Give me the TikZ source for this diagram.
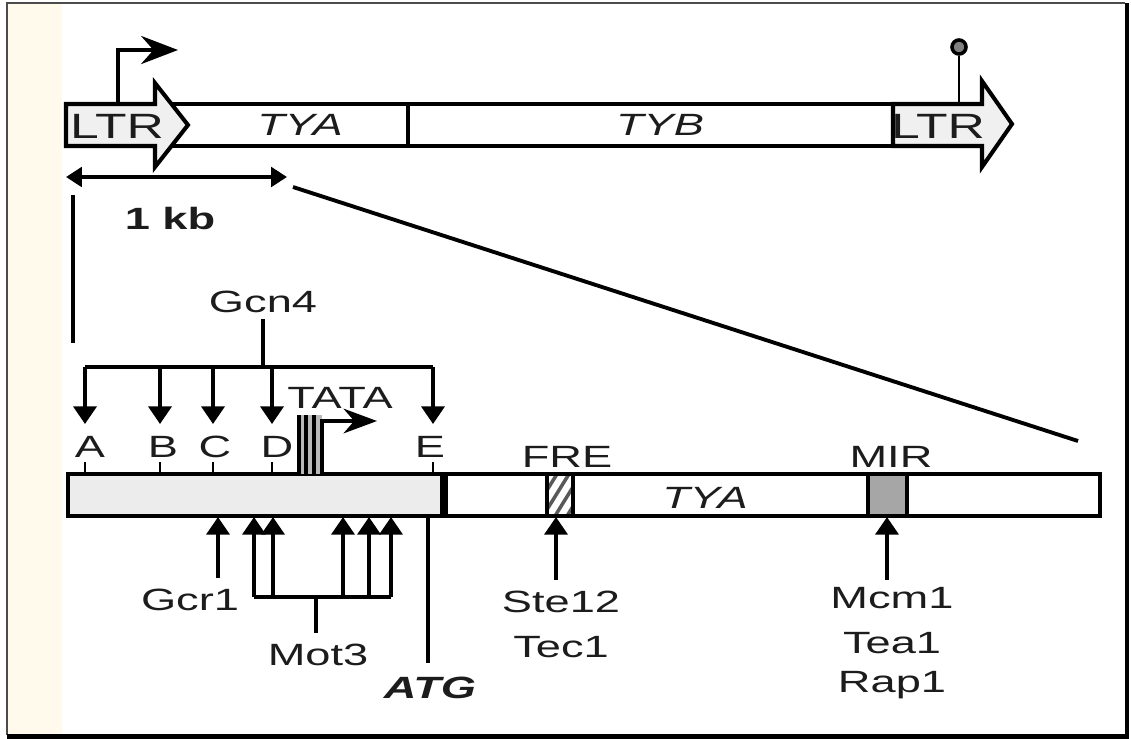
\documentclass[tikz,border=0pt]{standalone}
\usepackage{fontspec}
\setmainfont{Liberation Sans}[FakeStretch=1.47]
\usetikzlibrary{arrows.meta,positioning}
\definecolor{cream}{HTML}{FFFAEB}
\definecolor{ink}{HTML}{1C1C1C}
\begin{document}
\begin{tikzpicture}[
  x=0.02cm, y=-0.02cm,
  every node/.style={font=\fontsize{17.5}{21}\selectfont, text=ink, inner sep=0pt},
  bar/.style={draw, line width=2.3pt},
  wire/.style={line width=2.2pt},
  site/.style={line width=2.2pt, -{Triangle[length=10pt,width=13pt]}},
  tss/.style={line width=2.2pt, -{Stealth[length=21pt,width=16pt,inset=7pt]}},
]
\useasboundingbox (0,0) rectangle (1131,738);

%% frame with shadow edge
\fill[cream] (8,4) rectangle (62,734);
\draw[gray!60!black, line width=1pt] (1125,3) -- (7,3) -- (7,735);
\draw[line width=2.8pt] (7,736.5) -- (1127,736.5) -- (1127,3);

\def\ut{104}   % upper bar top
\def\ub{146}   % upper bar bottom

%% Ty1 element
\draw[bar, fill=white] (160,\ut) rectangle (900,\ub);
\draw[wire] (408,\ut) -- (408,\ub);
\draw[bar, fill=gray!12] (66,\ut) -- (155,\ut) -- (155,83) -- (188,125)
  -- (155,167) -- (155,\ub) -- (66,\ub) -- cycle;
\draw[bar, fill=gray!12] (893,\ut) -- (982,\ut) -- (982,81) -- (1012,124)
  -- (982,167) -- (982,\ub) -- (893,\ub) -- cycle;
\node[font=\fontsize{20}{24}\selectfont] (ltrL) at (117,126) {LTR};
\node[font=\fontsize{20}{24}\selectfont] (ltrR) at (938,126) {LTR};
\node[font=\fontsize{17.5}{21}\selectfont\itshape] (tyaU) at (300,125) {TYA};
\node[font=\fontsize{17.5}{21}\selectfont\itshape] (tyb) at (660,125) {TYB};

%% transcription start and terminator
\coordinate (tssU) at (118,\ut);
\coordinate (tssUe) at (178,50);
\draw[tss] (tssU) |- (tssUe);
\coordinate (term) at (959,\ut);
\node[draw, circle, line width=2pt, fill=gray, minimum size=8pt] (termH) at (959,47) {};
\draw[line width=1.6pt] (term) -- (termH.south);

%% scale
\coordinate (sbL) at (66,177);
\coordinate (sbR) at (287,177);
\draw[wire, {Triangle[length=9pt,width=11pt]}-{Triangle[length=9pt,width=11pt]}] (sbL) -- (sbR);
\node[font=\fontsize{17.5}{21}\selectfont\bfseries] (kb) at (170,219) {1 kb};

%% zoom lines
\coordinate (zA) at (73,195);
\coordinate (zB) at (73,343);
\coordinate (zC) at (293,187);
\coordinate (zD) at (1078,441);
\draw[wire] (zA) -- (zB);
\draw[wire] (zC) -- (zD);

\def\bt{474}   % lower bar top
\def\bb{516}   % lower bar bottom

%% promoter + TYA
\fill[gray!15] (68,\bt) rectangle (444,\bb);
\draw[bar] (68,\bt) rectangle (1100,\bb);
\draw[line width=4.5pt] (444,\bt) -- (444,\bb);

%% FRE (hatched)
\begin{scope}
  \clip (547,\bt) rectangle (573,\bb);
  \foreach \k in {-40,-28,...,40}
    \draw[gray!70!black, line width=2pt] (547+\k,\bb) -- (573+\k,\bt);
\end{scope}
\draw[bar] (547,\bt) rectangle (573,\bb);

%% MIR
\draw[bar, fill=gray!70] (868,\bt) rectangle (907,\bb);

%% TATA box
\fill[gray!55] (297,415) rectangle (322,\bt);
\foreach \x in {299,306,314}
  \draw[line width=2.6pt] (\x,415) -- (\x,\bt);
\coordinate (tssL) at (322,\bt);
\coordinate (tssLe) at (377,421);
\draw[wire, -{Stealth[length=19pt,width=14pt,inset=6pt]}] (tssL) |- (tssLe);
\node (tata) at (340,398) {TATA};

%% labels on the bar
\node (fre) at (567,457) {FRE};
\node (mir) at (891,457) {MIR};
\node[font=\fontsize{17.5}{21}\selectfont\itshape] (tyaL) at (705,498) {TYA};

%% Gcn4 sites A-E
\node (gcn4) at (263,302) {Gcn4};
\coordinate (gj) at (263,367);
\draw[wire] (gcn4.south) ++(0,6) -- (gj);
\draw[wire] (85,367) -- (433,367);
\foreach \x/\lx/\l in {85/90/A, 160/163/B, 213/215/C, 272/277/D, 433/430/E}{
  \coordinate (g\l) at (\x,367);
  \coordinate (g\l t) at (\x,424);
  \draw[site] (g\l) -- (g\l t);
  \node (s\l) at (\lx,447) {\l};
  \draw[line width=1.4pt] (\x,462) -- (\x,\bt);
}

%% Gcr1
\coordinate (gcr) at (218,578);
\coordinate (gcrT) at (218,517);
\draw[site] (gcr) -- (gcrT);
\node (gcr1) at (190,600) {Gcr1};

%% Mot3 sites
\draw[wire] (254,597) -- (391,597);
\foreach \x in {254,273,343,369,391}{
  \coordinate (m\x) at (\x,597);
  \coordinate (m\x t) at (\x,517);
  \draw[site] (m\x) -- (m\x t);
}
\node (mot3) at (318,655) {Mot3};
\draw[wire] (316,597) -- (316,633);

%% ATG
\coordinate (atg) at (428,\bb);
\node[font=\fontsize{17.5}{21}\selectfont\bfseries\itshape] (atgL) at (430,688) {ATG};
\draw[wire] (atg) -- (428,663);

%% Ste12 / Tec1
\coordinate (ste) at (556,580);
\coordinate (steT) at (556,517);
\draw[site] (ste) -- (steT);
\node (ste12) at (561,602) {Ste12};
\node (tec1) at (561,647) {Tec1};

%% Mcm1 / Tea1 / Rap1
\coordinate (mcm) at (887,580);
\coordinate (mcmT) at (887,517);
\draw[site] (mcm) -- (mcmT);
\node (mcm1) at (892,598) {Mcm1};
\node (tea1) at (892,643) {Tea1};
\node (rap1) at (892,685) {Rap1};

\end{tikzpicture}
\end{document}
